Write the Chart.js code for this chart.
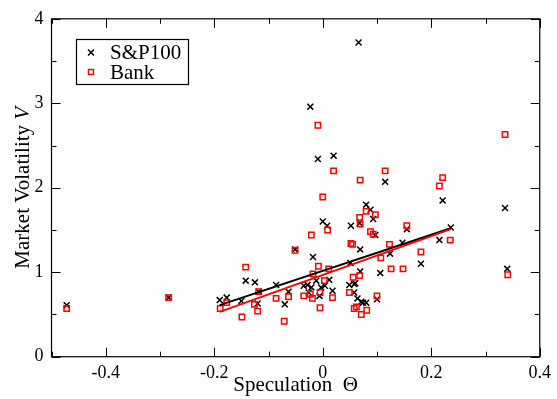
<!DOCTYPE html>
<html lang="en">
<head>
  <meta charset="UTF-8">
  <title>Market Volatility vs Speculation</title>
  <script src="https://cdn.jsdelivr.net/npm/chart.js"></script>
  <style>
    html, body { margin: 0; padding: 0; background: #fff; }
    #wrap { width: 557px; height: 399px; }
  </style>
</head>
<body>
<div id="wrap"><canvas id="chart" width="557" height="399"></canvas></div>
<script>
// S&P100 points (speculation, volatility)
const spX = [-0.472, -0.284, -0.190, -0.177, -0.150, -0.142, -0.125, -0.118, -0.120, -0.086,
             -0.070, -0.063, -0.051, -0.035, -0.026, -0.021, -0.012, -0.006, -0.003, 0.012,
             0.018, -0.018, 0.000, 0.008, -0.023, -0.009, 0.020, 0.049, 0.058, 0.058,
             0.064, 0.074, 0.080, 0.100, 0.069, 0.106, 0.051, 0.069, 0.052, 0.068,
             0.066, 0.080, 0.088, 0.093, 0.097, 0.115, 0.124, 0.147, 0.155, 0.181,
             0.215, 0.221, 0.236, 0.336, 0.340, -0.028, 0.060, 0.071, 0.004];
const spV = [0.61, 0.70, 0.67, 0.70, 0.66, 0.90, 0.88, 0.77, 0.63, 0.85,
             0.62, 0.77, 1.27, 0.84, 0.76, 0.82, 0.90, 0.72, 0.82, 0.91,
             0.78, 1.18, 1.60, 1.55, 2.96, 2.34, 2.38, 0.85, 0.86, 0.76,
             0.69, 0.64, 0.64, 0.68, 1.01, 0.99, 1.11, 1.27, 1.55, 1.58,
             3.72, 1.80, 1.74, 1.63, 1.44, 2.07, 1.22, 1.35, 1.51, 1.10,
             1.38, 1.85, 1.53, 1.76, 1.04, 0.85, 0.87, 0.65, 0.84];

// Bank points
const bkX = [-0.472, -0.284, -0.189, -0.177, -0.142, -0.149, -0.118, -0.126, -0.120, -0.086,
             -0.063, -0.071, -0.051, -0.035, -0.023, -0.019, -0.021, -0.008, -0.005, -0.005,
             -0.009, 0.000, 0.003, 0.009, 0.011, 0.018, 0.020, -0.018, 0.049, 0.052,
             0.055, 0.056, 0.058, 0.062, 0.068, 0.068, 0.069, 0.071, 0.069, 0.080,
             0.081, 0.088, 0.097, 0.093, 0.100, 0.107, 0.115, 0.123, 0.126, 0.148,
             0.155, 0.181, 0.215, 0.221, 0.235, 0.336, 0.341];
const bkV = [0.57, 0.70, 0.57, 0.64, 1.06, 0.47, 0.77, 0.62, 0.54, 0.69,
             0.71, 0.42, 1.26, 0.72, 0.74, 0.69, 1.44, 1.07, 0.58, 0.76,
             2.74, 1.89, 0.90, 1.50, 1.04, 0.70, 2.20, 0.98, 0.76, 1.34,
             1.33, 0.94, 0.57, 0.59, 0.96, 1.65, 1.57, 0.50, 2.09, 1.72,
             0.55, 1.48, 1.68, 1.45, 0.72, 1.17, 2.20, 1.33, 1.04, 1.04,
             1.55, 1.24, 2.02, 2.12, 1.38, 2.63, 0.97];

// linear fits, drawn over the central range only
const fitX = [-0.19, 0.236];
const spFitV = [0.61, 1.52];
const bkFitV = [0.53, 1.51];

const xTicks = [-0.4, -0.2, 0, 0.2, 0.4];
const xTickLabels = ['-0.4', '-0.2', '0', '0.2', '0.4'];
const yTicks = [0, 1, 2, 3, 4];
const yTickLabels = ['0', '1', '2', '3', '4'];
const xMinor = [-0.5, -0.3, -0.1, 0.1, 0.3];
const yMinor = [0.5, 1.5, 2.5, 3.5];

const seriesNames = ['S&P100', 'Bank'];
const serif = '"Liberation Serif", "DejaVu Serif", serif';

const pts = (xs, ys) => xs.map((x, i) => ({ x: x, y: ys[i] }));

// frame, inward ticks, axis titles and legend box
const decor = {
  id: 'decor',
  afterDraw(chart) {
    const { ctx, chartArea: a, scales: { x, y } } = chart;
    ctx.save();
    ctx.strokeStyle = '#000';
    ctx.lineWidth = 1.2;
    ctx.strokeRect(a.left, a.top, a.right - a.left, a.bottom - a.top);

    ctx.lineWidth = 1;
    ctx.beginPath();
    const tickX = (v, len) => {
      const px = Math.round(x.getPixelForValue(v)) + 0.5;
      ctx.moveTo(px, a.bottom); ctx.lineTo(px, a.bottom - len);
      ctx.moveTo(px, a.top); ctx.lineTo(px, a.top + len);
    };
    const tickY = (v, len) => {
      const py = Math.round(y.getPixelForValue(v)) + 0.5;
      ctx.moveTo(a.left, py); ctx.lineTo(a.left + len, py);
      ctx.moveTo(a.right, py); ctx.lineTo(a.right - len, py);
    };
    xTicks.forEach(v => tickX(v, 9));
    xMinor.forEach(v => tickX(v, 5));
    yTicks.forEach(v => tickY(v, 9));
    yMinor.forEach(v => tickY(v, 5));
    ctx.stroke();

    // x title
    ctx.fillStyle = '#000';
    ctx.font = '21px ' + serif;
    ctx.textAlign = 'center';
    ctx.textBaseline = 'alphabetic';
    ctx.fillText('Speculation  \u0398', (a.left + a.right) / 2, 391);

    // y title with italic V
    const p1 = 'Market Volatility ';
    const p2 = 'V';
    ctx.save();
    ctx.translate(29, (a.top + a.bottom) / 2);
    ctx.rotate(-Math.PI / 2);
    ctx.font = '21px ' + serif;
    const w1 = ctx.measureText(p1).width;
    ctx.font = 'italic 21px ' + serif;
    const w2 = ctx.measureText(p2).width;
    const start = -(w1 + w2) / 2;
    ctx.textAlign = 'left';
    ctx.font = '21px ' + serif;
    ctx.fillText(p1, start, 0);
    ctx.font = 'italic 21px ' + serif;
    ctx.fillText(p2, start + w1, 0);
    ctx.restore();

    // legend
    ctx.lineWidth = 1.2;
    ctx.strokeRect(76.5, 39.5, 112, 45);
    ctx.font = '21px ' + serif;
    ctx.textAlign = 'left';
    ctx.textBaseline = 'middle';
    ctx.fillText(seriesNames[0], 110, 53);
    ctx.fillText(seriesNames[1], 110, 73);
    ctx.lineWidth = 1.5;
    ctx.beginPath();
    ctx.moveTo(88, 49.5); ctx.lineTo(94, 55.5);
    ctx.moveTo(94, 49.5); ctx.lineTo(88, 55.5);
    ctx.stroke();
    ctx.strokeStyle = '#ff0000';
    ctx.strokeRect(88.5, 69.5, 5, 5);
    ctx.restore();
  }
};

new Chart(document.getElementById('chart'), {
  type: 'scatter',
  data: {
    datasets: [
      {
        label: seriesNames[1] + ' fit',
        data: pts(fitX, bkFitV),
        showLine: true,
        borderColor: '#ff0000',
        borderWidth: 2,
        pointRadius: 0,
        order: 0
      },
      {
        label: seriesNames[0] + ' fit',
        data: pts(fitX, spFitV),
        showLine: true,
        borderColor: '#000',
        borderWidth: 2,
        pointRadius: 0,
        order: 1
      },
      {
        label: seriesNames[1],
        data: pts(bkX, bkV),
        pointStyle: 'rect',
        pointRadius: 3.8,
        pointBorderWidth: 1.5,
        borderColor: '#ff0000',
        backgroundColor: 'rgba(0,0,0,0)',
        order: 2
      },
      {
        label: seriesNames[0],
        data: pts(spX, spV),
        pointStyle: 'crossRot',
        pointRadius: 4.2,
        pointBorderWidth: 1.5,
        borderColor: '#000',
        backgroundColor: '#000',
        order: 3
      }
    ]
  },
  options: {
    responsive: false,
    animation: false,
    devicePixelRatio: 1,
    layout: { padding: { left: 0, top: 14.7, right: 16.3, bottom: 0 } },
    plugins: { legend: { display: false }, tooltip: { enabled: false } },
    scales: {
      x: {
        type: 'linear',
        min: -0.5,
        max: 0.4,
        grid: { display: false, drawTicks: false },
        border: { display: false },
        afterBuildTicks: s => { s.ticks = xTicks.map(v => ({ value: v })); },
        afterFit: s => { s.height = 42.3; },
        ticks: {
          padding: 6,
          color: '#000',
          font: { family: serif, size: 18 },
          callback: v => xTickLabels[xTicks.indexOf(v)]
        }
      },
      y: {
        type: 'linear',
        min: 0,
        max: 4,
        grid: { display: false, drawTicks: false },
        border: { display: false },
        afterBuildTicks: s => { s.ticks = yTicks.map(v => ({ value: v })); },
        afterFit: s => { s.width = 51.5; },
        ticks: {
          padding: 8,
          color: '#000',
          font: { family: serif, size: 18 },
          callback: v => yTickLabels[yTicks.indexOf(v)]
        }
      }
    }
  },
  plugins: [decor]
});
</script>
</body>
</html>
